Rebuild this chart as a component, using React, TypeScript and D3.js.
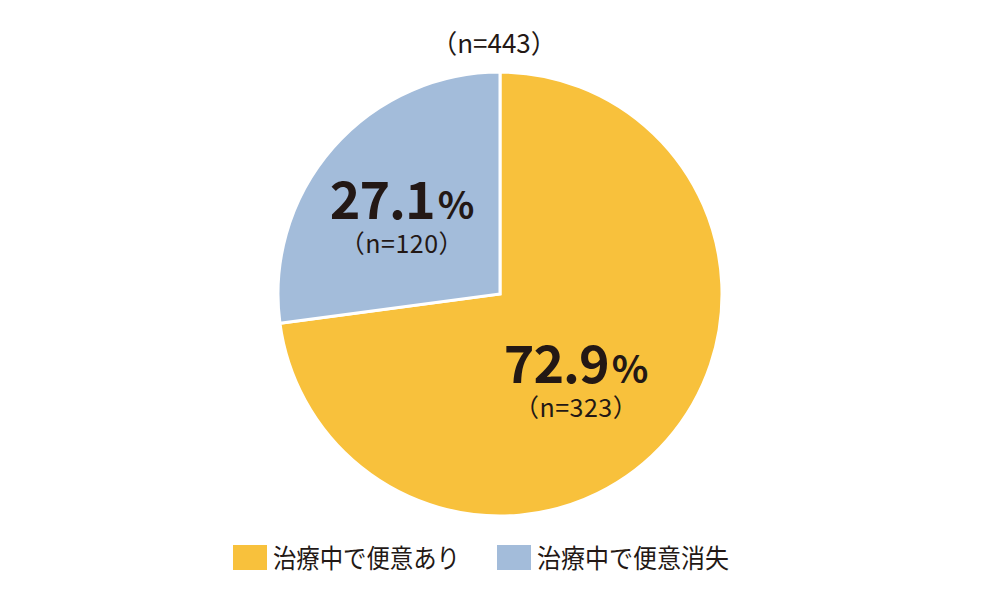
import React from 'react';
import * as d3 from 'd3';

// データ
const CATEGORIES = ['治療中で便意あり', '治療中で便意消失'];
const PERCENTS = [72.9, 27.1];
const COUNTS = [323, 120];
const TOTAL_N = 443;
const COLORS = ['#F8C13C', '#A3BCDA'];

const W = 1000;
const H = 600;
const CX = 500;
const CY = 294;
const R = 222;
const TEXT = '#231815';
const FONT = '"Noto Sans CJK JP", "Noto Sans", sans-serif';

type Slice = { name: string; pct: number; n: number; color: string };

const slices: Slice[] = CATEGORIES.map((name, i) => ({
  name,
  pct: PERCENTS[i],
  n: COUNTS[i],
  color: COLORS[i],
}));

export default function App() {
  const pie = d3.pie<Slice>().value(d => d.pct).sort(null);
  const arc = d3.arc<d3.PieArcDatum<Slice>>().innerRadius(0).outerRadius(R);
  // ラベル位置用
  const labelArc = d3.arc<d3.PieArcDatum<Slice>>().innerRadius(250).outerRadius(0);
  const arcs = pie(slices);

  return (
    <svg
      width={W}
      height={H}
      style={{ position: 'absolute', left: 0, top: 0, background: '#fff' }}
      fontFamily={FONT}
    >
      <text x={CX - 6} y={53} textAnchor="middle" fontSize={26} fill={TEXT}>
        （n={TOTAL_N}）
      </text>

      <g transform={`translate(${CX},${CY})`}>
        {arcs.map((d, i) => (
          <path key={i} d={arc(d) || ''} fill={d.data.color} stroke="#fff" strokeWidth={3} />
        ))}
        {arcs.map((d, i) => {
          const [cx, cy] = labelArc.centroid(d);
          // 大きいスライスは少し内側へ
          const lx = cx + (i === 0 ? -18 : -4);
          const ly = cy + 7;
          return (
            <g key={'l' + i} transform={`translate(${lx},${ly})`}>
              <text textAnchor="middle" y={0} fill={TEXT} fontWeight={700}>
                <tspan fontSize={52} letterSpacing={-1}>{d.data.pct.toFixed(1)}</tspan>
                <tspan fontSize={38} dx={3}>%</tspan>
              </text>
              <text textAnchor="middle" y={34} fontSize={25} letterSpacing={0.5} fill={TEXT}>
                （n={d.data.n}）
              </text>
            </g>
          );
        })}
      </g>

      {slices.map((s, i) => {
        const x0 = 233 + i * 264;
        return (
          <g key={'lg' + i} transform={`translate(${x0},545)`}>
            <rect width={34} height={25} fill={s.color} />
            <text
              x={40}
              y={23}
              fontSize={26}
              fill={TEXT}
              textLength={i === 0 ? 187 : 192}
              lengthAdjust="spacingAndGlyphs"
            >
              {s.name}
            </text>
          </g>
        );
      })}
    </svg>
  );
}
